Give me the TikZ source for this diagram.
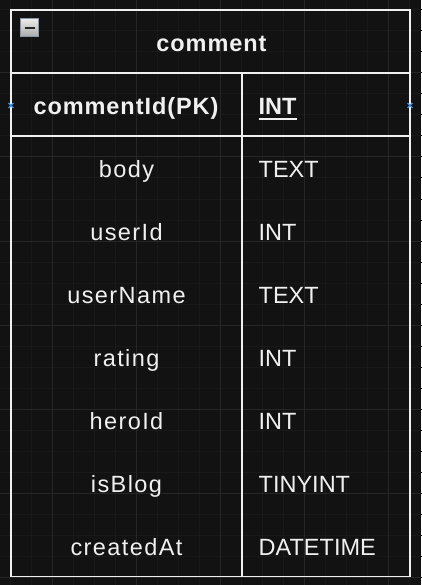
\documentclass[tikz,border=0pt]{standalone}
\usepackage{fontspec}
\setmainfont{Liberation Sans}
\newfontfamily\namefont[LetterSpace=6]{Liberation Sans}
\newfontfamily\keyfont[LetterSpace=4]{Liberation Sans}
\definecolor{canvas}{HTML}{121212}
\definecolor{gridminor}{HTML}{191919}
\definecolor{gridmajor}{HTML}{262626}
\definecolor{ink}{HTML}{F0F0F0}
\definecolor{iconedge}{HTML}{8A96A8}
\definecolor{pointblue}{HTML}{3C8FE0}
\begin{document}
\begin{tikzpicture}[x=1pt,y=1pt]
			\tikzstyle{every node}+=[inner sep=0pt, text=ink]
			\tikzstyle{title}=[anchor=base, font=\keyfont\bfseries\fontsize{23.5}{27}\selectfont]
			\tikzstyle{keyname}=[anchor=base, font=\keyfont\bfseries\fontsize{23.5}{27}\selectfont]
			\tikzstyle{keytype}=[anchor=base west, font=\bfseries\fontsize{23.5}{27}\selectfont]
			\tikzstyle{fieldname}=[anchor=base, font=\namefont\fontsize{23.5}{27}\selectfont]
			\tikzstyle{fieldtype}=[anchor=base west, font=\fontsize{23.5}{27}\selectfont]
			\tikzstyle{rule}=[ink, line width=1.8]
			% canvas and grid
			\useasboundingbox (0,0) rectangle (421,-585);
			\fill [canvas] (0,0) rectangle (421,-585);
			\draw [gridminor, line width=1, shift={(10,-10)}, step=21pt] (-21,21) grid (420,-590);
			\draw [gridmajor, line width=1, shift={(52,-73)}, step=84pt] (-84,84) grid (380,-520);
			% table frame
			\draw [rule] (11,-10) rectangle (410,-576.5);
			\draw [rule] (11,-73) -- (410,-73);
			\draw [rule] (11,-136) -- (410,-136);
			\draw [rule] (242,-73) -- (242,-576.5);
			% collapse icon
			\shade [top color=white!92!black, bottom color=white!66!black, draw=iconedge, line width=1] (20,-19) rectangle (38,-37);
			\draw [black!85, line width=2] (24.5,-28.3) -- (34.5,-28.3);
			% connection points
			\draw [pointblue, line width=1.2] (8.5,-103) -- (13.5,-108) (8.5,-108) -- (13.5,-103);
			\draw [pointblue, line width=1.2] (407.5,-103) -- (412.5,-108) (407.5,-108) -- (412.5,-103);
			% header
			\node [title] (tablename) at (211.5,-51.8) {comment};
			\node [keyname] (pkname) at (126,-115) {commentId(PK)};
			\node [keytype] (pktype) at (258.5,-115) {INT};
			\draw [ink, line width=1.5] ([yshift=-3.8]pktype.base west) -- ([yshift=-3.8]pktype.base east);
			% fields
			\node [fieldname] (bodyname) at (126.5,-177.8) {body};
			\node [fieldtype] (bodytype) at (258.5,-177.8) {TEXT};
			\node [fieldname] (useridname) at (126.5,-240.7) {userId};
			\node [fieldtype] (useridtype) at (258.5,-240.7) {INT};
			\node [fieldname] (usernamename) at (126.5,-303.6) {userName};
			\node [fieldtype] (usernametype) at (258.5,-303.6) {TEXT};
			\node [fieldname] (ratingname) at (126.5,-366.5) {rating};
			\node [fieldtype] (ratingtype) at (258.5,-366.5) {INT};
			\node [fieldname] (heroidname) at (126.5,-429.5) {heroId};
			\node [fieldtype] (heroidtype) at (258.5,-429.5) {INT};
			\node [fieldname] (isblogname) at (126.5,-492.4) {isBlog};
			\node [fieldtype] (isblogtype) at (258.5,-492.4) {TINYINT};
			\node [fieldname] (createdatname) at (126.5,-555.3) {createdAt};
			\node [fieldtype] (createdattype) at (258.5,-555.3) {DATETIME};
\end{tikzpicture}
\end{document}
